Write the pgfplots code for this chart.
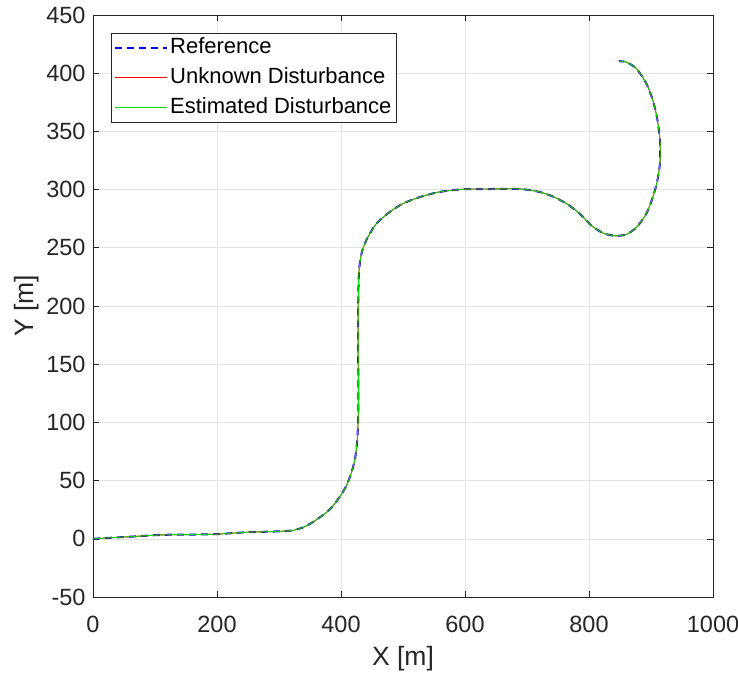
\documentclass[border=0pt]{standalone}
\usepackage{pgfplots}
\usepackage{pgfplotstable}
\pgfplotsset{compat=1.18}
\usepackage{fontspec}
\setmainfont{Liberation Sans}
\definecolor{axgray}{rgb}{0.15,0.15,0.15}
\definecolor{gridgray}{rgb}{0.89,0.89,0.89}
\definecolor{mgreen}{rgb}{0,0.85,0}
\definecolor{mred}{rgb}{1,0,0}
\definecolor{mblue}{rgb}{0,0,1}
\pgfplotstableread{
x y
0 0
32 1
60 1.8
113 3.4
194 3.9
247 5.6
301 6.4
323 7.3
340 10
355 14.5
374 21.6
385 27
398 36
409 46
417 57
423 70
426.5 87
428 110
428 136
427.5 187
429 230
434.5 248
443.5 259.3
457 270.8
478.5 280.8
500 288
527 293.6
559 298
597 300.3
640 300.5
688 300.6
720 298
742 294
763.5 288
785 279.4
803 269.5
822.6 262.6
842 260.3
860 261.4
876.5 267.5
892.6 279.4
903 293.6
910 307
914.5 323
914.5 342
910 361
903 376.7
892.6 391
876.5 404
860 409.6
848 410.3
}\pathdata
\begin{document}
\begin{tikzpicture}[x=1pt,y=1pt]
\useasboundingbox (-93pt,-77pt) rectangle (645pt,597pt);
\begin{axis}[
  at={(0pt,0pt)}, anchor=south west,
  width=620pt, height=582pt, scale only axis,
  xmin=0, xmax=1000, ymin=-50, ymax=450,
  xtick={0,200,...,1000}, ytick={-50,0,...,450},
  grid=major, major grid style={gridgray, line width=0.6pt},
  axis line style={axgray, line width=0.6pt},
  tick style={axgray, line width=0.6pt},
  tick align=inside, tick pos=both,
  major tick length=6pt,
  font=\fontsize{23.5}{28}\selectfont,
  tick label style={font=\fontsize{23.5}{28}\selectfont, text=axgray},
  x tick label style={yshift=-16pt},
  y tick label style={xshift=-4pt},
  /pgf/number format/assume math mode=true,
  /pgf/number format/.cd, 1000 sep={}, /pgfplots/.cd,
  xlabel={X [m]}, ylabel={Y [m]},
  label style={font=\fontsize{26.5}{31}\selectfont, text=axgray},
  xlabel style={at={(rel axis cs:0.5,0)}, anchor=center, yshift=-62pt},
  ylabel style={at={(rel axis cs:0,0.5)}, anchor=center, yshift=66pt},
  legend cell align=left,
  legend style={name=leg, at={(rel axis cs:0.029,0.969)}, anchor=north west,
    draw=none, fill=white, font=\fontsize{22}{26}\selectfont,
    inner xsep=3pt, inner ysep=4pt, row sep=9pt,
    nodes={text height=16pt, text depth=5pt, inner ysep=0pt}},
]
\addlegendimage{legend image code/.code={\draw[mblue, line width=2pt, dash pattern=on 7pt off 5pt] (0pt,0pt) -- (52pt,0pt);}}
\addlegendentry{Reference}
\addlegendimage{legend image code/.code={\draw[mred, line width=1pt] (0pt,0pt) -- (52pt,0pt);}}
\addlegendentry{Unknown Disturbance}
\addlegendimage{legend image code/.code={\draw[mgreen, line width=1pt] (0pt,0pt) -- (52pt,0pt);}}
\addlegendentry{Estimated Disturbance}
\addplot[mblue, line width=2pt, dash pattern=on 7pt off 5pt, smooth, tension=0.4, forget plot] table[x=x,y=y]{\pathdata};
\addplot[mred, line width=0.9pt, smooth, tension=0.4, forget plot] table[x=x,y=y]{\pathdata};
\addplot[mgreen, line width=0.9pt, smooth, tension=0.4, forget plot] table[x=x,y=y]{\pathdata};
\end{axis}
\draw[axgray, line width=0.6pt] (leg.south west) rectangle (leg.north east);
\end{tikzpicture}
\end{document}
